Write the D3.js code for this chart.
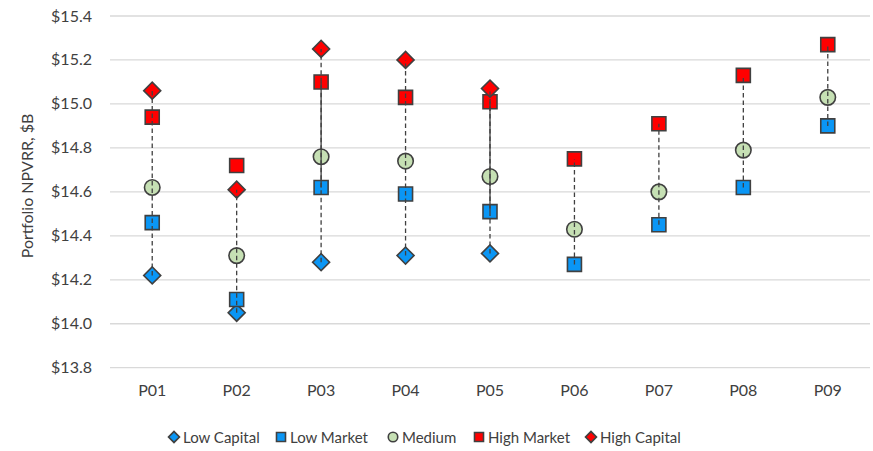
<!DOCTYPE html>
<html>
<head>
<meta charset="utf-8">
<script src="https://cdn.jsdelivr.net/npm/d3@7"></script>
<style>
  html, body { margin: 0; padding: 0; background: #fff; }
  svg { display: block; font-family: Lato, "Open Sans", sans-serif; }
</style>
</head>
<body>
<svg id="chart" width="873" height="451"></svg>
<script>
// Portfolio NPVRR by portfolio under five scenarios ($B)
const portfolios   = ["P01", "P02", "P03", "P04", "P05", "P06", "P07", "P08", "P09"];
const lowCapital   = [14.22, 14.05, 14.28, 14.31, 14.32, null, null, null, null];
const lowMarket    = [14.46, 14.11, 14.62, 14.59, 14.51, 14.27, 14.45, 14.62, 14.90];
const medium       = [14.62, 14.31, 14.76, 14.74, 14.67, 14.43, 14.60, 14.79, 15.03];
const highMarket   = [14.94, 14.72, 15.10, 15.03, 15.01, 14.75, 14.91, 15.13, 15.27];
const highCapital  = [15.06, 14.61, 15.25, 15.20, 15.07, null, null, null, null];
const yTicks       = [13.8, 14.0, 14.2, 14.4, 14.6, 14.8, 15.0, 15.2, 15.4];
// Portfolios whose market range is drawn as a solid link
const solidMarketLinks = ["P03", "P05"];

const series = [
  { name: "Low Capital",  values: lowCapital,  shape: "diamond", fill: "#0A96F5" },
  { name: "Low Market",   values: lowMarket,   shape: "square",  fill: "#0A96F5" },
  { name: "Medium",       values: medium,      shape: "circle",  fill: "#C6E0B4" },
  { name: "High Market",  values: highMarket,  shape: "square",  fill: "#FF0000" },
  { name: "High Capital", values: highCapital, shape: "diamond", fill: "#FF0000" }
];

const svg = d3.select("#chart");
const stroke = "#404040";

const x = d3.scaleBand().domain(portfolios).range([110, 870]);
const y = d3.scaleLinear().domain([13.8, 15.4]).range([367.7, 16]);
const cx = p => x(p) + x.bandwidth() / 2;

// Gridlines
svg.append("g")
  .selectAll("line")
  .data(yTicks)
  .join("line")
  .attr("x1", 110).attr("x2", 870)
  .attr("y1", d => y(d)).attr("y2", d => y(d))
  .attr("stroke", "#D9D9D9").attr("stroke-width", 1.3);

// Y axis tick labels
svg.append("g")
  .selectAll("text")
  .data(yTicks)
  .join("text")
  .attr("x", 92).attr("y", d => y(d) + 5.5)
  .attr("text-anchor", "end")
  .attr("font-size", 16).attr("fill", "#404040")
  .text(d => "$" + d.toFixed(1));

// X axis labels
svg.append("g")
  .selectAll("text")
  .data(portfolios)
  .join("text")
  .attr("x", d => cx(d)).attr("y", 396)
  .attr("text-anchor", "middle")
  .attr("font-size", 16).attr("fill", "#404040")
  .text(d => d);

// Y axis title
svg.append("text")
  .attr("transform", "translate(33,186) rotate(-90)")
  .attr("text-anchor", "middle")
  .attr("font-size", 16).attr("fill", "#404040")
  .text("Portfolio NPVRR, $B");

function drawMarker(g, shape, fill, px, py, size) {
  const path = g.append("path")
    .attr("fill", fill).attr("stroke", stroke).attr("stroke-width", 1.6);
  if (shape === "diamond") {
    const s = size / Math.SQRT2;
    path.attr("d", d3.symbol(d3.symbolSquare, s * s)())
      .attr("transform", `translate(${px},${py}) rotate(45)`);
  } else if (shape === "square") {
    path.attr("d", d3.symbol(d3.symbolSquare, size * size)())
      .attr("transform", `translate(${px},${py})`);
  } else {
    path.attr("d", d3.symbol(d3.symbolCircle, Math.PI * size * size / 4)())
      .attr("transform", `translate(${px},${py})`);
  }
}

// Markers
const markers = svg.append("g");
series.forEach(s => {
  const size = s.shape === "diamond" ? 17 : (s.shape === "square" ? 14 : 15.5);
  portfolios.forEach((p, i) => {
    if (s.values[i] == null) return;
    drawMarker(markers, s.shape, s.fill, cx(p), y(s.values[i]), size);
  });
});

// Range links (drawn over the markers)
const links = svg.append("g");
portfolios.forEach((p, i) => {
  const hasCapital = lowCapital[i] != null;
  const lo = hasCapital ? lowCapital[i] : lowMarket[i];
  const hi = hasCapital ? highCapital[i] : highMarket[i];
  links.append("line")
    .attr("x1", cx(p)).attr("x2", cx(p))
    .attr("y1", y(lo)).attr("y2", y(hi))
    .attr("stroke", stroke).attr("stroke-width", 1.3)
    .attr("stroke-dasharray", "4.5,3");
  if (solidMarketLinks.includes(p)) {
    links.append("line")
      .attr("x1", cx(p)).attr("x2", cx(p))
      .attr("y1", y(lowMarket[i])).attr("y2", y(highMarket[i]))
      .attr("stroke", stroke).attr("stroke-width", 1.3);
  }
});

// Legend
const legendX = [174, 281, 393, 479, 591];
const legend = svg.append("g");
series.forEach((s, i) => {
  const size = s.shape === "diamond" ? 11 : (s.shape === "square" ? 9 : 9.5);
  drawMarker(legend, s.shape, s.fill, legendX[i], 437, size);
  legend.append("text")
    .attr("x", legendX[i] + 9).attr("y", 442.5)
    .attr("font-size", 15).attr("fill", "#404040")
    .text(s.name);
});
</script>
</body>
</html>
